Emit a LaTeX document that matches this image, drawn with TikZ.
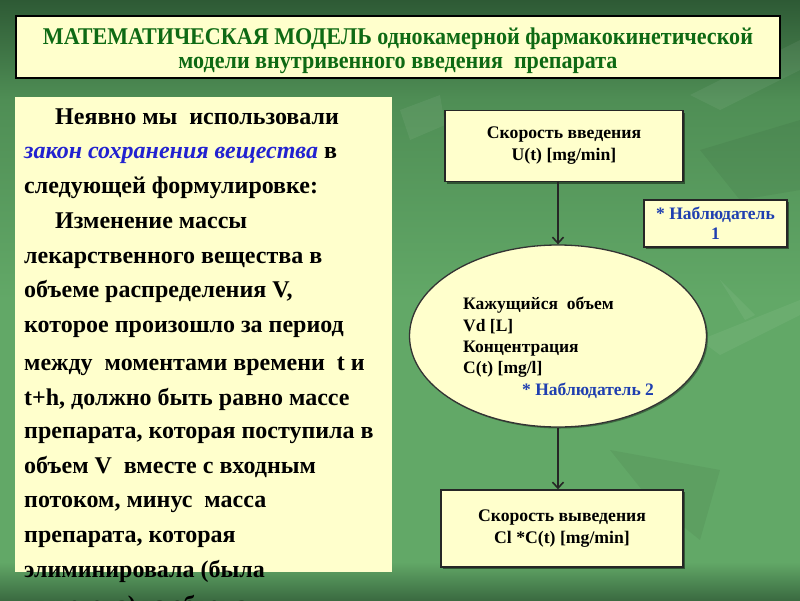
\documentclass[tikz,border=0pt]{standalone}
\usepackage{fontspec}
\setmainfont{Liberation Serif}
\usetikzlibrary{shapes.geometric,arrows.meta,calc,shadows}
\definecolor{bgtop}{HTML}{2E5A35}
\definecolor{bgup}{HTML}{4F8E55}
\definecolor{bgmid}{HTML}{62A867}
\definecolor{bgbot}{HTML}{3A6A40}
\definecolor{paper}{HTML}{FFFFCC}
\definecolor{titlegreen}{HTML}{0E6A14}
\definecolor{obsblue}{HTML}{1F3FB0}
\definecolor{lawblue}{HTML}{2222D0}
\tikzset{
  leaf/.style={fill=white, fill opacity=0.06, draw=none},
  darkleaf/.style={fill=black, fill opacity=0.05, draw=none},
  panel/.style={fill=paper, draw=none},
  lt/.style={anchor=base west, inner sep=0pt, font=\fontsize{24}{28}\selectfont\bfseries},
  box/.style={draw=black!85, line width=1.4pt, fill=paper, align=center, inner sep=0pt,
     font=\fontsize{17.7}{22}\selectfont\bfseries,
     drop shadow={shadow xshift=2pt, shadow yshift=-2pt, opacity=0.45, fill=black}},
  obsbox/.style={box, text=obsblue, font=\fontsize{17.5}{20}\selectfont\bfseries},
  ell/.style={ellipse, draw=black!80, line width=1.3pt, fill=paper, inner sep=0pt,
     drop shadow={shadow xshift=1.5pt, shadow yshift=-1.5pt, opacity=0.35, fill=black}},
  et/.style={anchor=base west, inner sep=0pt, font=\fontsize{17.5}{20}\selectfont\bfseries},
  ttl/.style={anchor=base, inner sep=0pt, text=titlegreen, font=\fontsize{24}{28}\selectfont\bfseries},
  arr/.style={draw=black!85, line width=1.8pt, -{Straight Barb[length=6pt,width=11pt,line width=1.6pt]}},
}
\begin{document}
\begin{tikzpicture}[x=1pt,y=-1pt]
\useasboundingbox (0,0) rectangle (800,600);
% background
\shade[top color=bgtop, bottom color=bgup] (0,0) rectangle (800,100);
\shade[top color=bgup, bottom color=bgmid] (0,100) rectangle (800,300);
\fill[bgmid] (0,300) rectangle (800,562);
\shade[top color=bgmid, bottom color=bgbot] (0,562) rectangle (800,600.5);
% faint leaf patterns
\fill[leaf] (690,95) -- (800,40) -- (800,70) -- (720,110) -- cycle;
\fill[leaf] (720,280) -- (745,320) -- (755,315) -- cycle;
\fill[leaf] (700,340) -- (800,300) -- (800,315) -- (720,355) -- cycle;
\fill[darkleaf] (700,150) -- (800,120) -- (800,190) -- (740,200) -- cycle;
\fill[darkleaf] (610,450) -- (720,470) -- (700,540) -- (650,500) -- cycle;
\fill[leaf] (400,110) -- (440,95) -- (445,125) -- (410,140) -- cycle;
% title
\node[draw=black, line width=2.4pt, fill=paper, minimum width=764, minimum height=62,
      inner sep=0pt] (title) at (398,47) {};
\node[ttl] (t1) at (398,44)
  {\scalebox{0.92}[1]{МАТЕМАТИЧЕСКАЯ МОДЕЛЬ\ однокамерной фармакокинетической}};
\node[ttl] (t2) at (398,68)
  {\scalebox{0.92}[1]{модели внутривенного введения\ \ препарата}};
% left panel
\fill[panel] (15,97) rectangle (392,572);
\begin{scope}
\clip (0,0) rectangle (800,600);
\node[lt] (l1) at (55,124) {Неявно мы\ \ использовали};
\node[lt] (l2) at (24,158) {\textcolor{lawblue}{\itshape закон сохранения вещества} в};
\node[lt] (l3) at (24,193) {следующей формулировке:};
\node[lt] (l4) at (55,228) {Изменение массы};
\node[lt] (l5) at (24,263) {лекарственного вещества в};
\node[lt] (l6) at (24,297) {объеме распределения V,};
\node[lt] (l7) at (24,332) {которое произошло за период};
\node[lt] (l8) at (24,370) {между\ \ моментами времени\ \ t и};
\node[lt] (l9) at (24,405) {t+h, должно быть равно массе};
\node[lt] (l10) at (24,438) {препарата, которая поступила в};
\node[lt] (l11) at (24,473) {объем V\ \ вместе с входным};
\node[lt] (l12) at (24,507) {потоком, минус\ \ масса};
\node[lt] (l13) at (24,542) {препарата, которая};
\node[lt] (l14) at (24,577) {элиминировала (была};
\node[lt] (l15) at (24,612) {выведена) из объема};
\end{scope}
% diagram
\node[box, minimum width=238, minimum height=71] (b1) at (564,146) {Скорость введения\\U(t) [mg/min]};
\node[obsbox, minimum width=143, minimum height=47] (o1) at (715.5,223.5) {* Наблюдатель\\1};
\node[ell, minimum width=297, minimum height=182] (el) at (558,336) {};
\node[et] (e1) at (463,309) {Кажущийся\ \ объем};
\node[et] (e2) at (463,331) {Vd\ [L]};
\node[et] (e3) at (463,352) {Концентрация};
\node[et] (e4) at (463,373) {C(t) [mg/l]};
\node[et, text=obsblue] (e5) at (522,395) {* Наблюдатель 2};
\node[box, minimum width=242, minimum height=77] (b3) at (562,528.5) {Скорость выведения\\Cl *C(t) [mg/min]};
\draw[arr] (b1.south -| el.north) -- (el.north);
\draw[arr] (el.south) -- (b3.north -| el.south);
\end{tikzpicture}
\end{document}
